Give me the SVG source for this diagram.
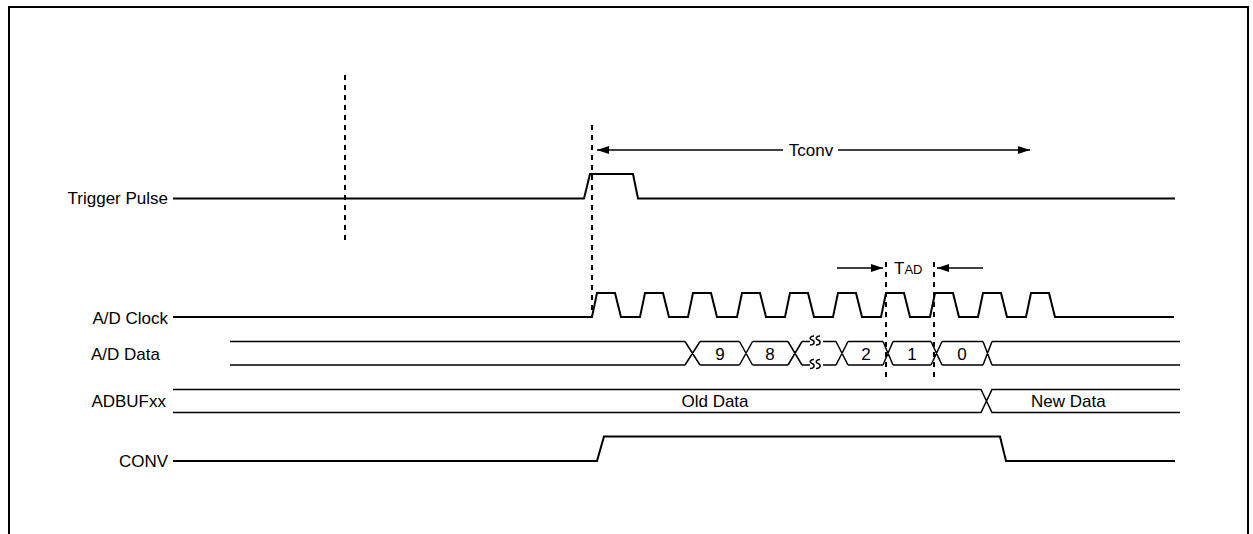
<svg xmlns="http://www.w3.org/2000/svg" width="1253" height="534" viewBox="0 0 1253 534">
<style>
.sig{fill:none;stroke:#000;stroke-width:2;stroke-linejoin:miter}
.bus{fill:none;stroke:#000;stroke-width:1.5}
.dash{fill:none;stroke:#000;stroke-width:2;stroke-dasharray:5 5}
.arr{fill:none;stroke:#000;stroke-width:1.5}
.lbl{font-family:"Liberation Sans",Arial,sans-serif;font-size:17px;fill:#000}
</style>
<defs>
<marker id="ah" viewBox="0 0 12 8" refX="12" refY="4" markerWidth="12" markerHeight="8" markerUnits="userSpaceOnUse" orient="auto-start-reverse">
<path d="M0,0 L12,4 L0,8 Z" fill="#000"/>
</marker>
</defs>
<rect width="1253" height="534" fill="#fff"/>
<path d="M9,534 V7 H1248 V534" fill="none" stroke="#000" stroke-width="2"/>

<g id="trigger">
<text class="lbl" x="168" y="204" text-anchor="end">Trigger Pulse</text>
<path class="sig" d="M173,198.5 H584 L590,174 H633 L638,198.5 H1175"/>
</g>

<g id="clock">
<text class="lbl" x="168" y="324" text-anchor="end">A/D Clock</text>
<path class="sig" d="M173,317 H592 L597,293 H615 L621,317 H640 L645,293 H663 L669,317 H688 L693,293 H711 L717,317 H737 L742,293 H760 L766,317 H785 L790,293 H808 L814,317 H833 L838,293 H856 L862,317 H881 L886,293 H904 L910,317 H930 L935,293 H953 L959,317 H978 L983,293 H1001 L1007,317 H1026 L1031,293 H1049 L1055,317 H1174"/>
</g>

<g id="addata">
<text class="lbl" x="160" y="360" text-anchor="end">A/D Data</text>
<path class="bus" d="M230,341.5 H685 M700,341.5 H739.5 M752.5,341.5 H788 M802,341.5 H810 M823,341.5 H836 M848,341.5 H883 M893,341.5 H931 M942,341.5 H983 M992,341.5 H1180"/>
<path class="bus" d="M230,365 H685 M700,365 H739.5 M752.5,365 H788 M802,365 H810 M823,365 H836 M848,365 H883 M893,365 H931 M942,365 H983 M992,365 H1180"/>
<path class="bus" d="M685,341.5 L700,365 M685,365 L700,341.5 M739.5,341.5 L752.5,365 M739.5,365 L752.5,341.5 M788,341.5 L802,365 M788,365 L802,341.5 M836,341.5 L848,365 M836,365 L848,341.5 M883,341.5 L893,365 M883,365 L893,341.5 M931,341.5 L942,365 M931,365 L942,341.5 M983,341.5 L992,365 M983,365 L992,341.5"/>
<path class="bus" stroke-width="1" d="M810,345 C815,345 815,341 812,340 C809,339 810,336 814,336 M816,345 C821,345 821,341 818,340 C815,339 816,336 820,336 M810,368.5 C815,368.5 815,364.5 812,363.5 C809,362.5 810,359.5 814,359.5 M816,368.5 C821,368.5 821,364.5 818,363.5 C815,362.5 816,359.5 820,359.5"/>
<text class="lbl" x="720" y="360" text-anchor="middle">9</text>
<text class="lbl" x="770" y="360" text-anchor="middle">8</text>
<text class="lbl" x="866" y="360" text-anchor="middle">2</text>
<text class="lbl" x="912" y="360" text-anchor="middle">1</text>
<text class="lbl" x="962" y="360" text-anchor="middle">0</text>
</g>

<g id="adbuf">
<text class="lbl" x="166" y="407" text-anchor="end">ADBUFxx</text>
<path class="bus" d="M173,389.5 H981 L992,412.5 H1180 M173,412.5 H981 L992,389.5 H1180"/>
<text class="lbl" x="715" y="407" text-anchor="middle">Old Data</text>
<text class="lbl" x="1031" y="407">New Data</text>
</g>

<g id="conv">
<text class="lbl" x="168" y="467" text-anchor="end">CONV</text>
<path class="sig" d="M173,461 H597 L604,436.5 H1000 L1006,461 H1175"/>
</g>

<g id="connectors">
<path class="dash" d="M345,75 V243"/>
<path class="dash" d="M592,125 V316"/>
<path class="dash" d="M886,262 V380"/>
<path class="dash" d="M934,262 V380"/>
<path class="arr" d="M783,150 H597" marker-end="url(#ah)"/>
<path class="arr" d="M838,150 H1030" marker-end="url(#ah)"/>
<text class="lbl" x="811" y="156" text-anchor="middle">Tconv</text>
<path class="arr" d="M837,268 H883" marker-end="url(#ah)"/>
<path class="arr" d="M983,268 H937" marker-end="url(#ah)"/>
<text class="lbl" x="894" y="274">T<tspan font-size="13">AD</tspan></text>
</g>
</svg>
